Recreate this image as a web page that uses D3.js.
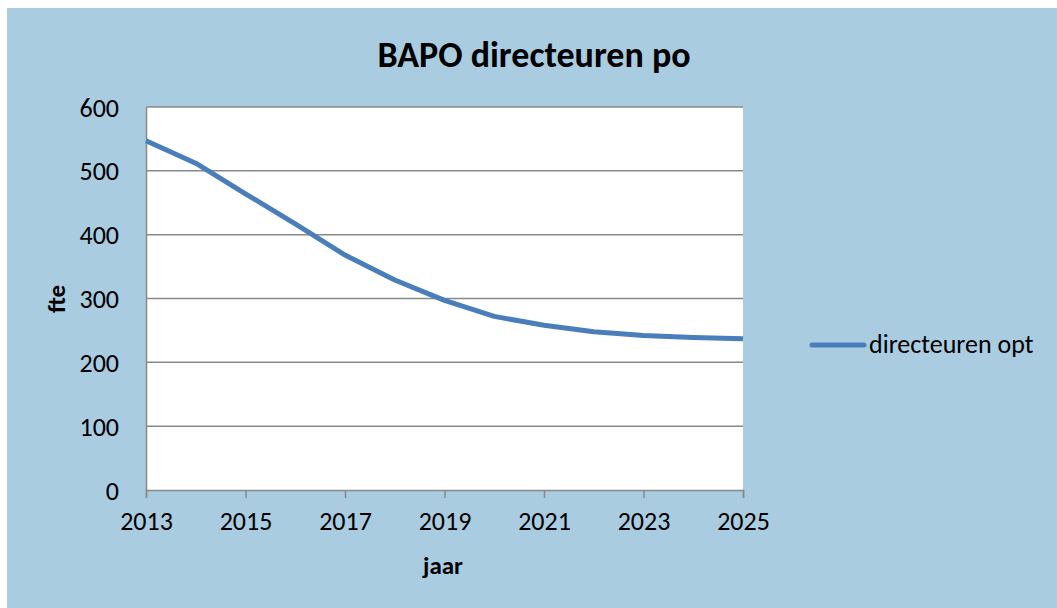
<!DOCTYPE html>
<html>
<head>
<meta charset="utf-8">
<script src="https://cdn.jsdelivr.net/npm/d3@7"></script>
<style>
  body { margin: 0; background: #fff; }
  text { font-family: Carlito, Calibri, Lato, sans-serif; fill: #000; }
</style>
</head>
<body>
<div id="chart"></div>
<script>
const years = [2013, 2014, 2015, 2016, 2017, 2018, 2019, 2020, 2021, 2022, 2023, 2024, 2025];
const fte = [547, 512, 464, 417, 368, 329, 297, 272, 258, 248, 242, 239, 237];
const yTicks = [0, 100, 200, 300, 400, 500, 600];
const xTicks = [2013, 2015, 2017, 2019, 2021, 2023, 2025];
const seriesName = 'directeuren opt';

const width = 1057;
const height = 608;

const svg = d3.select('#chart')
    .append('svg')
    .attr('width', width)
    .attr('height', height);

// chart background
svg.append('rect')
    .attr('x', 7)
    .attr('y', 8)
    .attr('width', width - 7)
    .attr('height', height - 8)
    .attr('fill', '#a9cce1');

const x = d3.scaleLinear().domain([2013, 2025]).range([146, 743]);
const y = d3.scaleLinear().domain([0, 600]).range([490, 107]);

// plot area
svg.append('rect')
    .attr('x', x(2013))
    .attr('y', y(600))
    .attr('width', x(2025) - x(2013))
    .attr('height', y(0) - y(600))
    .attr('fill', '#fff');

// gridlines
svg.append('g')
    .selectAll('line')
    .data(yTicks.filter(d => d > 0))
    .enter()
    .append('line')
    .attr('x1', x(2013))
    .attr('x2', x(2025))
    .attr('y1', d => y(d))
    .attr('y2', d => y(d))
    .attr('stroke', '#888')
    .attr('stroke-width', 1.5);

// y axis
const yAxis = svg.append('g')
    .attr('transform', `translate(${x(2013)},0)`)
    .call(d3.axisLeft(y).tickValues(yTicks).tickSize(0).tickPadding(27));
yAxis.select('.domain').attr('stroke', '#888').attr('stroke-width', 1.5);
yAxis.selectAll('text')
    .style('font-size', '26px')
    .attr('dy', '0.35em');

// x axis
const xAxis = svg.append('g')
    .attr('transform', `translate(0,${y(0)})`)
    .call(d3.axisBottom(x).tickValues(xTicks).tickFormat(d3.format('d')).tickSize(8).tickPadding(14));
xAxis.select('.domain').attr('stroke', '#888').attr('stroke-width', 1.5);
xAxis.selectAll('.tick line').attr('stroke', '#888').attr('stroke-width', 1.5);
xAxis.selectAll('text').style('font-size', '26px');

// line
const line = d3.line()
    .x((d, i) => x(years[i]))
    .y(d => y(d));

svg.append('path')
    .datum(fte)
    .attr('d', line)
    .attr('fill', 'none')
    .attr('stroke', '#4a7ebb')
    .attr('stroke-width', 5)
    .attr('stroke-linejoin', 'round');

// title
svg.append('text')
    .attr('x', 534)
    .attr('y', 67)
    .attr('text-anchor', 'middle')
    .style('font-size', '36px')
    .style('font-weight', 'bold')
    .text('BAPO directeuren po');

// axis titles
svg.append('text')
    .attr('transform', 'translate(65,299) rotate(-90)')
    .attr('text-anchor', 'middle')
    .style('font-size', '25px')
    .style('font-weight', 'bold')
    .text('fte');

svg.append('text')
    .attr('x', 443)
    .attr('y', 574)
    .attr('text-anchor', 'middle')
    .style('font-size', '25px')
    .style('font-weight', 'bold')
    .text('jaar');

// legend
svg.append('line')
    .attr('x1', 812)
    .attr('x2', 864)
    .attr('y1', 345)
    .attr('y2', 345)
    .attr('stroke', '#4a7ebb')
    .attr('stroke-width', 5)
    .attr('stroke-linecap', 'round');

svg.append('text')
    .attr('x', 869)
    .attr('y', 353)
    .style('font-size', '26px')
    .text(seriesName);
</script>
</body>
</html>
